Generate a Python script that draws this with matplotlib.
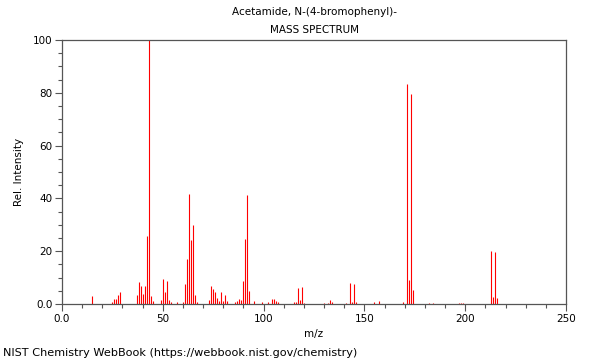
import matplotlib
matplotlib.use("Agg")
import matplotlib.pyplot as plt
from matplotlib.ticker import MultipleLocator, FixedFormatter, FixedLocator

# m/z values and relative intensities
mz = [15, 25, 26, 27, 28, 29,
      37, 38, 39, 40, 41, 42, 43, 44, 45,
      49, 50, 51, 52, 53, 54, 57,
      60, 61, 62, 63, 64, 65, 66, 67,
      73, 74, 75, 76, 77, 78, 79, 80, 81, 82,
      86, 87, 88, 89, 90, 91, 92, 93, 95,
      99, 102, 104, 105, 106, 107,
      115, 116, 117, 118, 119, 120,
      130, 132, 133, 134,
      141, 143, 144, 145, 146,
      155, 157,
      169, 171, 172, 173, 174,
      182, 184, 197, 198, 199,
      213, 214, 215, 216]
intensity = [3.0, 0.9, 1.8, 2.0, 3.4, 4.4,
             3.4, 8.2, 6.8, 3.8, 6.9, 25.8, 100.0, 3.2, 1.0,
             1.5, 9.5, 4.4, 8.8, 1.5, 0.8, 0.6,
             0.8, 7.6, 17.0, 41.7, 24.1, 29.8, 3.5, 0.8,
             1.5, 6.8, 5.7, 4.4, 2.3, 1.3, 4.4, 1.3, 3.4, 1.0,
             0.8, 1.3, 1.9, 1.5, 8.7, 24.6, 41.4, 4.9, 1.1,
             0.8, 0.8, 1.9, 1.9, 1.1, 0.8,
             0.6, 0.9, 6.1, 1.5, 6.3, 0.5,
             0.5, 0.5, 1.5, 0.6,
             0.5, 8.0, 0.9, 7.4, 0.8,
             0.9, 1.2,
             0.6, 83.3, 9.1, 79.7, 5.3,
             0.3, 0.5, 0.5, 0.5, 0.5,
             20.1, 2.6, 19.7, 2.4]

x_ticks = [0, 50, 100, 150, 200, 250]
x_labels = ["0.0", "50", "100", "150", "200", "250"]
y_ticks = [0, 20, 40, 60, 80, 100]
y_labels = ["0.0", "20", "40", "60", "80", "100"]

fs = 7.5
axis_col = "#555555"

fig = plt.figure(figsize=(6, 3.6), dpi=100)
ax = fig.add_axes([62 / 600, 56 / 360, 504 / 600, 264 / 360])

ax.vlines(mz, 0, intensity, colors="red", linewidth=0.8)

ax.set_xlim(0, 250)
ax.set_ylim(0, 100)

ax.xaxis.set_major_locator(FixedLocator(x_ticks))
ax.xaxis.set_major_formatter(FixedFormatter(x_labels))
ax.xaxis.set_minor_locator(MultipleLocator(10))
ax.yaxis.set_major_locator(FixedLocator(y_ticks))
ax.yaxis.set_major_formatter(FixedFormatter(y_labels))
ax.yaxis.set_minor_locator(MultipleLocator(5))

ax.tick_params(which="major", length=5, width=0.8, color=axis_col,
               labelsize=fs, pad=2)
ax.tick_params(which="minor", length=3, width=0.8, color=axis_col)

for s in ax.spines.values():
    s.set_color(axis_col)
    s.set_linewidth(0.9)

ax.set_xlabel("m/z", fontsize=fs, labelpad=4)
ax.set_ylabel("Rel. Intensity", fontsize=fs, labelpad=6)

fig.text(314 / 600, 1 - 12 / 360, "Acetamide, N-(4-bromophenyl)-",
         ha="center", va="center", fontsize=fs)
fig.text(314 / 600, 1 - 30 / 360, "MASS SPECTRUM",
         ha="center", va="center", fontsize=fs)
fig.text(3 / 600, 1 - 353 / 360,
         "NIST Chemistry WebBook (https://webbook.nist.gov/chemistry)",
         ha="left", va="center", fontsize=8.1)

fig.savefig("out.png", dpi=100)
